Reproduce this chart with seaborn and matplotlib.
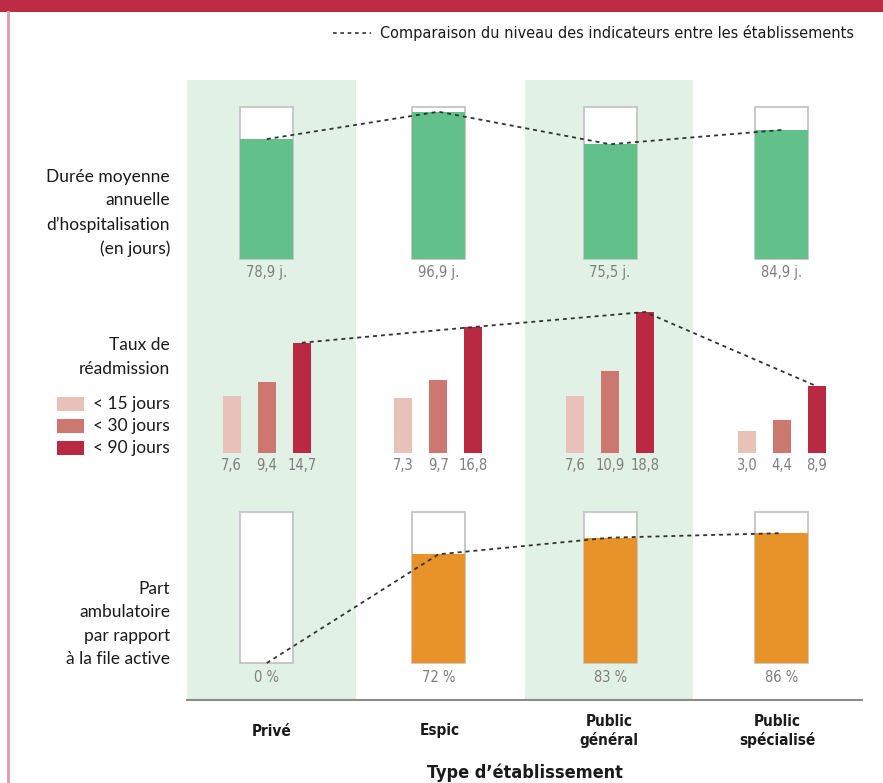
import matplotlib
matplotlib.use("Agg")
import matplotlib.pyplot as plt
import matplotlib.font_manager as fm
from matplotlib.patches import Rectangle
from matplotlib.lines import Line2D
from matplotlib.transforms import blended_transform_factory
import seaborn as sns
import pandas as pd

# ---------------- data ----------------
ETABS = ["Privé", "Espic", "Public\ngénéral", "Public\nspécialisé"]
DUREE = [78.9, 96.9, 75.5, 84.9]          # jours
DUREE_MAX = 100
DELAIS = ["< 15 jours", "< 30 jours", "< 90 jours"]
TAUX_15 = [7.6, 7.3, 7.6, 3.0]
TAUX_30 = [9.4, 9.7, 10.9, 4.4]
TAUX_90 = [14.7, 16.8, 18.8, 8.9]
TAUX_MAX = 20
PART_AMBU = [0, 72, 83, 86]               # %
PART_MAX = 100
ROW_LABELS = ["Durée moyenne\nannuelle\nd’hospitalisation\n(en jours)",
              "Taux de\nréadmission",
              "Part\nambulatoire\npar rapport\nà la file active"]
X_TITLE = "Type d’établissement"
LEGEND_LINE = "Comparaison du niveau des indicateurs entre les établissements"

# ---------------- style ----------------
GREEN = "#62C08A"
BG_GREEN = "#E1F1E6"
ORANGE = "#E8922A"
REDS = ["#E8C1B9", "#CC776F", "#B92A42"]
BOX_EDGE = "#BFBFBF"
VAL_COLOR = "#7F7F7F"
LINE_COLOR = "#333333"
DOT = (0, (2.2, 2.2))

names = {f.name for f in fm.fontManager.ttflist}
if "Liberation Sans Narrow" in names:
    NARROW = dict(family="Liberation Sans Narrow")
else:
    NARROW = dict(family="DejaVu Sans", stretch="condensed")
REG = dict(family="Lato") if "Lato" in names else dict(family="DejaVu Sans")

W, H = 883, 783
fig = plt.figure(figsize=(W / 100, H / 100), dpi=100)


def box(x0, y0, x1, y1):
    return [x0 / W, 1 - y1 / H, (x1 - x0) / W, (y1 - y0) / H]


# decoration: top band and left rule
fig.add_artist(Rectangle((0, 1 - 12 / H), 1, 12 / H, transform=fig.transFigure,
                         color="#BE2B45", lw=0))
fig.add_artist(Line2D([8 / W, 8 / W], [0, 1 - 12 / H], transform=fig.transFigure,
                      color="#E59AAB", lw=2))

# background columns
bg = fig.add_axes(box(187, 80, 862, 700))
bg.set_xlim(-0.5, len(ETABS) - 0.5)
bg.set_ylim(0, 1)
bg.axis("off")
for i in range(0, len(ETABS), 2):
    bg.axvspan(i - 0.5, i + 0.5, color=BG_GREEN, lw=0)
bg.axhline(0, color="#8C8C8C", lw=1.5, clip_on=False)

BAR_W = 0.309
XL, XR = 181, 867.5   # horizontal extent of the bar panels


def setup(ax, ymax):
    ax.set_xlim(-0.5, len(ETABS) - 0.5)
    ax.set_ylim(0, ymax)
    ax.axis("off")
    ax.patch.set_alpha(0)
    for p in ax.patches:
        p.set_clip_on(False)


def value_labels(ax, cont, texts, dy):
    for p, t in zip(cont, texts):
        cx = p.get_x() + p.get_width() / 2
        ax.annotate(t, xy=(cx, 0), xytext=(0, -dy), textcoords="offset pixels",
                    ha="center", va="center", fontsize=10.5, color=VAL_COLOR,
                    annotation_clip=False, **NARROW)


def link_line(ax, cont):
    xs = [p.get_x() + p.get_width() / 2 for p in cont]
    ys = [p.get_height() for p in cont]
    ax.plot(xs, ys, ls=DOT, color=LINE_COLOR, lw=1.3, zorder=5, clip_on=False)


def fr(v):
    return f"{v:.1f}".replace(".", ",")


# ---- row 1 : durée moyenne ----
ax1 = fig.add_axes(box(XL, 107, XR, 259))
df1 = pd.DataFrame({"etab": ETABS, "val": DUREE, "max": [DUREE_MAX] * len(ETABS)})
sns.barplot(df1, x="etab", y="max", order=ETABS, color="white", edgecolor=BOX_EDGE,
            linewidth=1.2, width=BAR_W, saturation=1, errorbar=None, ax=ax1)
sns.barplot(df1, x="etab", y="val", order=ETABS, color=GREEN, linewidth=0,
            width=BAR_W, saturation=1, errorbar=None, ax=ax1)
setup(ax1, DUREE_MAX)
value_labels(ax1, ax1.containers[-1], [fr(v) + " j." for v in DUREE], 14)
link_line(ax1, ax1.containers[-1])

# ---- row 2 : taux de réadmission ----
ax2 = fig.add_axes(box(XL, 303, XR, 453))
df2 = pd.DataFrame({
    "etab": ETABS * 3,
    "delai": [d for d in DELAIS for _ in ETABS],
    "taux": TAUX_15 + TAUX_30 + TAUX_90,
})
sns.barplot(df2, x="etab", y="taux", hue="delai", order=ETABS, hue_order=DELAIS,
            palette=REDS, width=0.612, gap=0.486, saturation=1, linewidth=0,
            errorbar=None, legend=False, ax=ax2)
setup(ax2, TAUX_MAX)
for cont, vals in zip(ax2.containers, [TAUX_15, TAUX_30, TAUX_90]):
    value_labels(ax2, cont, [fr(v) for v in vals], 12)
link_line(ax2, ax2.containers[-1])

# ---- row 3 : part ambulatoire ----
ax3 = fig.add_axes(box(XL, 512, XR, 663))
df3 = pd.DataFrame({"etab": ETABS, "val": PART_AMBU, "max": [PART_MAX] * len(ETABS)})
sns.barplot(df3, x="etab", y="max", order=ETABS, color="white", edgecolor=BOX_EDGE,
            linewidth=1.2, width=BAR_W, saturation=1, errorbar=None, ax=ax3)
sns.barplot(df3, x="etab", y="val", order=ETABS, color=ORANGE, linewidth=0,
            width=BAR_W, saturation=1, errorbar=None, ax=ax3)
setup(ax3, PART_MAX)
value_labels(ax3, ax3.containers[-1], [f"{v} %" for v in PART_AMBU], 15)
link_line(ax3, ax3.containers[-1])

# ---- row labels ----
for lab, yc in zip(ROW_LABELS, [213, 357, 624]):
    fig.text(170 / W, 1 - yc / H, lab, ha="right", va="center", fontsize=12.5,
             linespacing=1.58, color="#1A1A1A", **REG)

# legend for readmission delays
for i, (d, c) in enumerate(zip(DELAIS, REDS)):
    yc = 403.5 + i * 22.5
    fig.add_artist(Rectangle((57 / W, 1 - (yc + 7) / H), 27 / W, 14 / H,
                             transform=fig.transFigure, color=c, lw=0))
    fig.text(93 / W, 1 - yc / H, d, ha="left", va="center", fontsize=12.5,
             color="#1A1A1A", **REG)

# ---- category labels ----
tr = blended_transform_factory(bg.transData, fig.transFigure)
for i, e in enumerate(ETABS):
    bg.text(i, 1 - 731 / H, e, transform=tr, ha="center", va="center",
            fontsize=11, fontweight="bold", linespacing=1.3, color="#1A1A1A",
            **NARROW)
fig.text(((187 + 862) / 2) / W, 1 - 773 / H, X_TITLE, ha="center", va="center",
         fontsize=13, fontweight="bold", color="#1A1A1A", **NARROW)

# ---- top legend ----
fig.add_artist(Line2D([333 / W, 371 / W], [1 - 33 / H] * 2, transform=fig.transFigure,
                      ls=DOT, color=LINE_COLOR, lw=1.2))
fig.text(380 / W, 1 - 33 / H, LEGEND_LINE, ha="left", va="center", fontsize=11.6,
         color="#1A1A1A", **NARROW)

fig.savefig("out.png", dpi=100)
